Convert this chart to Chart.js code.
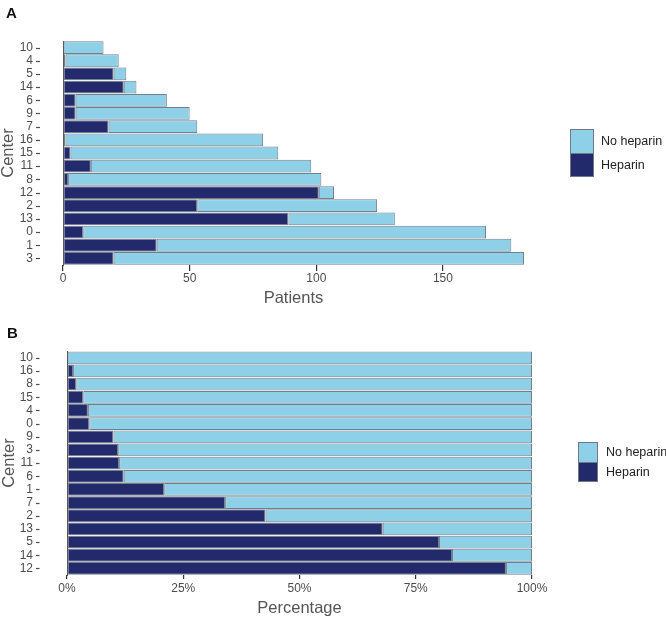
<!DOCTYPE html>
<html>
<head>
<meta charset="utf-8">
<script src="https://cdn.jsdelivr.net/npm/chart.js@4.4.1/dist/chart.umd.min.js"></script>
<style>
  html, body { margin:0; padding:0; background:#fff; }
  body { width:666px; height:618px; overflow:hidden; position:relative; font-family:"Liberation Sans", Arial, Helvetica, sans-serif; }
  .wrap { position:absolute; left:0; width:666px; }
  #wrapA { top:0; height:310px; }
  #wrapB { top:310px; height:308px; }
  .panel { position:absolute; font-weight:bold; font-size:15px; line-height:15px; color:#111; }
  .key { position:absolute; border:1px solid #6e7a86; box-sizing:border-box; }
  .lt { position:absolute; font-size:12.5px; line-height:14px; color:#222; white-space:nowrap; }
</style>
</head>
<body>
<div class="wrap" id="wrapA"><canvas id="chartA" width="666" height="310"></canvas></div>
<div class="wrap" id="wrapB"><canvas id="chartB" width="666" height="308"></canvas></div>

<div class="panel" style="left:6px;top:5px;">A</div>
<div class="panel" style="left:7px;top:325px;">B</div>

<!-- Legend A -->
<div class="key" style="left:570px;top:129px;width:24px;height:25px;background:#8fd0e9;"></div>
<div class="key" style="left:570px;top:153px;width:24px;height:24px;background:#232a6b;"></div>
<div class="lt" style="left:601px;top:134px;">No heparin</div>
<div class="lt" style="left:601px;top:158px;">Heparin</div>

<!-- Legend B -->
<div class="key" style="left:578px;top:442px;width:20px;height:21px;background:#8fd0e9;"></div>
<div class="key" style="left:578px;top:462px;width:20px;height:20px;background:#232a6b;"></div>
<div class="lt" style="left:606px;top:445px;">No heparin</div>
<div class="lt" style="left:606px;top:465px;">Heparin</div>

<script>
// ---- Panel A: patients per center ----
const centersA   = ['10','4','5','14','6','9','7','16','15','11','8','12','2','13','0','1','3'];
const heparinA   = [0, 1, 20, 24, 5, 5, 18, 1, 3, 11, 2, 101, 53, 89, 8, 37, 20];
const noHeparinA = [16, 21, 5, 5, 36, 45, 35, 78, 82, 87, 100, 6, 71, 42, 159, 140, 162];
const ticksA     = [0, 50, 100, 150];

// ---- Panel B: percentage per center ----
const centersB     = ['10','16','8','15','4','0','9','3','11','6','1','7','2','13','5','14','12'];
const heparinPctB  = [0, 1.3, 2.0, 3.5, 4.5, 4.8, 10.0, 11.0, 11.2, 12.2, 20.9, 34.0, 42.7, 67.9, 80.0, 82.8, 94.4];
const noHepPctB    = [100, 98.7, 98.0, 96.5, 95.5, 95.2, 90.0, 89.0, 88.8, 87.8, 79.1, 66.0, 57.3, 32.1, 20.0, 17.2, 5.6];
const ticksB       = [0, 25, 50, 75, 100];

const NAVY = '#232a6b';
const LIGHT = '#8fd0e9';
const EDGE = '#737f8b';
const FONT = '"Liberation Sans", Arial, Helvetica, sans-serif';

const dashPlugin = {
  id: 'ydash',
  afterDraw(chart, args, opts) {
    const s = chart.scales.y;
    const ctx = chart.ctx;
    ctx.save();
    ctx.strokeStyle = '#4d4d4d';
    ctx.lineWidth = 1.2;
    s.ticks.forEach((t, i) => {
      const y = Math.round(s.getPixelForTick(i)) + 0.5;
      ctx.beginPath();
      ctx.moveTo(opts.x1, y);
      ctx.lineTo(opts.x2, y);
      ctx.stroke();
    });
    ctx.restore();
  }
};

function makeChart(id, labels, hep, noHep, cfg) {
  const ds = (label, data, color) => ({
    label, data,
    backgroundColor: color,
    borderColor: EDGE,
    borderWidth: 1,
    borderSkipped: false,
    barPercentage: 0.97,
    categoryPercentage: 1.0
  });
  return new Chart(document.getElementById(id), {
    type: 'bar',
    data: {
      labels,
      datasets: [ds('Heparin', hep, NAVY), ds('No heparin', noHep, LIGHT)]
    },
    plugins: [dashPlugin],
    options: {
      indexAxis: 'y',
      responsive: false,
      animation: false,
      layout: { padding: cfg.padding },
      plugins: {
        legend: { display: false },
        tooltip: { enabled: false },
        ydash: { x1: cfg.dashX1, x2: cfg.dashX2 }
      },
      scales: {
        x: {
          stacked: true,
          min: 0,
          max: cfg.max,
          afterBuildTicks: (s) => { s.ticks = cfg.ticks.map(v => ({ value: v })); },
          ticks: {
            color: '#4d4d4d',
            font: { family: FONT, size: 12 },
            padding: cfg.xTickPad,
            maxRotation: 0,
            autoSkip: false,
            callback: cfg.fmt
          },
          grid: { drawOnChartArea: false, drawTicks: true, tickLength: cfg.tickLen, color: '#333', lineWidth: 1.2 },
          border: { display: false },
          title: { display: true, text: cfg.xTitle, color: '#555', font: { family: FONT, size: 16.5, lineHeight: 1.2 }, padding: 0 },
          afterFit: (s) => { s.height = cfg.xHeight; }
        },
        y: {
          stacked: true,
          ticks: { color: '#4d4d4d', font: { family: FONT, size: 12 }, padding: cfg.yTickPad, autoSkip: false },
          grid: { drawOnChartArea: false, drawTicks: false },
          border: { display: true, color: '#555', width: 1 },
          title: { display: true, text: 'Center', color: '#555', font: { family: FONT, size: 16.5, lineHeight: cfg.yTitleLH }, padding: 0 },
          afterFit: (s) => { s.width = cfg.yWidth; }
        }
      }
    }
  });
}

makeChart('chartA', centersA, heparinA, noHeparinA, {
  padding: { left: 0, top: 41, right: 142, bottom: 2 },
  max: 182, ticks: ticksA, fmt: (v) => String(v),
  xTitle: 'Patients', xHeight: 43, tickLen: 6, xTickPad: 0,
  yWidth: 63, yTickPad: 30, yTitleLH: 1.0,
  dashX1: 36, dashX2: 40
});

makeChart('chartB', centersB, heparinPctB, noHepPctB, {
  padding: { left: 0, top: 39, right: 134, bottom: 0 },
  max: 100, ticks: ticksB, fmt: (v) => v + '%',
  xTitle: 'Percentage', xHeight: 43, tickLen: 4, xTickPad: 2,
  yWidth: 67, yTickPad: 34, yTitleLH: 1.15,
  dashX1: 36, dashX2: 39.5
});
</script>
</body>
</html>
